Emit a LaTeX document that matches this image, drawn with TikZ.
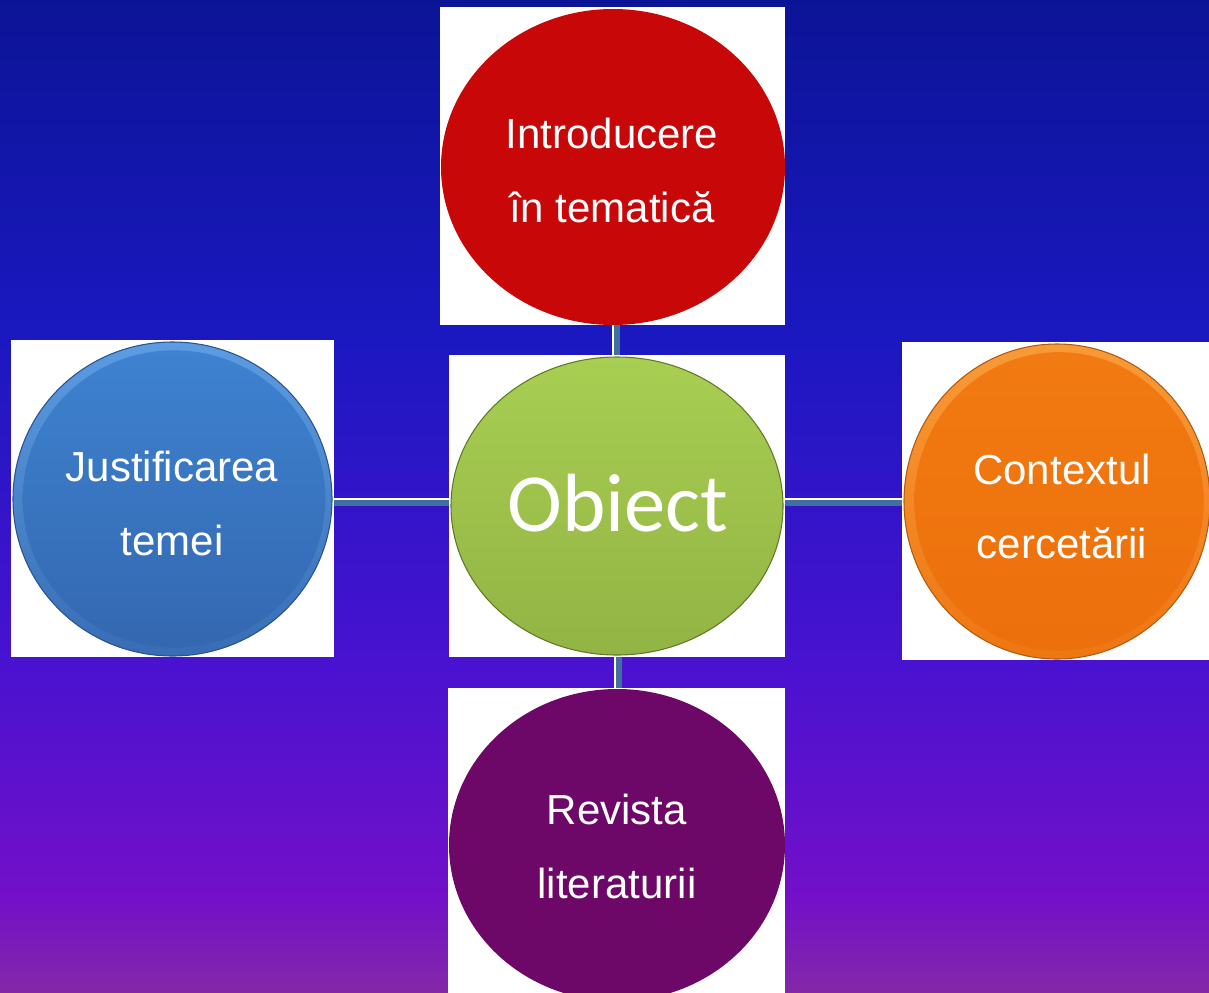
\documentclass[tikz,border=0pt]{standalone}
\usepackage{fontspec}
\setmainfont{Liberation Sans}
\newfontfamily\calib{Carlito}
\usetikzlibrary{shapes.geometric,calc}
\definecolor{bgA}{HTML}{0C1496}
\definecolor{bgB}{HTML}{1A18C0}
\definecolor{bgC}{HTML}{4812D0}
\definecolor{bgD}{HTML}{7410C8}
\definecolor{bgE}{HTML}{8428A8}
\definecolor{connblue}{HTML}{41709F}
\definecolor{redc}{HTML}{C80808}
\definecolor{purc}{HTML}{6E0868}
\definecolor{grnT}{HTML}{A8CE52}
\definecolor{grnB}{HTML}{92B444}
\definecolor{grnE}{HTML}{5E7A28}
\definecolor{bluR}{HTML}{5C9CE2}
\definecolor{bluT}{HTML}{3E82D0}
\definecolor{bluB}{HTML}{3468B0}
\definecolor{bluE}{HTML}{2A5290}
\definecolor{orR}{HTML}{F89A38}
\definecolor{orT}{HTML}{F27A12}
\definecolor{orB}{HTML}{EC700C}
\definecolor{orE}{HTML}{B05A10}
\tikzset{
  whitebox/.style={draw=none, fill=white, inner sep=0pt, rectangle},
  disc/.style={ellipse, inner sep=0pt, draw=none},
  label/.style={text=white, align=center, inner sep=0pt, font=\fontsize{31.5}{55.5}\selectfont},
  connw/.style={white, line width=6pt},
  connb/.style={connblue, line width=4.5pt},
}
\begin{document}
\begin{tikzpicture}[x=0.75pt,y=-0.75pt]
\useasboundingbox (0,0) rectangle (1209,992);
\clip (0,0) rectangle (1209,992);
% background
\shade[top color=bgA, bottom color=bgB] (0,0) rectangle (1209,331);
\shade[top color=bgB, bottom color=bgC] (0,330) rectangle (1209,661);
\shade[top color=bgC, bottom color=bgD] (0,660) rectangle (1209,901);
\shade[top color=bgD, bottom color=bgE] (0,900) rectangle (1209,992);
% white boxes
\node[whitebox, minimum width=258.75pt, minimum height=238.5pt] (topbox) at (612.5,166) {};
\node[whitebox, minimum width=252pt, minimum height=226.5pt] (midbox) at (617,506) {};
\node[whitebox, minimum width=242.25pt, minimum height=237.75pt] (leftbox) at (172.5,498.5) {};
\node[whitebox, minimum width=232.5pt, minimum height=238.5pt] (rightbox) at (1057,501) {};
\node[whitebox, minimum width=252.75pt, minimum height=234pt] (botbox) at (616.5,844) {};
% connectors
\draw[connw] (midbox.north -| 615.5,0) -- (topbox.south -| 615.5,0);
\draw[connb] ([xshift=0.75pt]midbox.north -| 615.5,0) -- ([xshift=0.75pt]topbox.south -| 615.5,0);
\draw[connw] (midbox.south -| 618,0) -- (botbox.north -| 618,0);
\draw[connb] ([xshift=0.75pt]midbox.south -| 618,0) -- ([xshift=0.75pt]botbox.north -| 618,0);
\draw[connw] (leftbox.east |- 0,501.5) -- (midbox.west |- 0,501.5);
\draw[connb] ([yshift=-0.75pt]leftbox.east |- 0,501.5) -- ([yshift=-0.75pt]midbox.west |- 0,501.5);
\draw[connw] (midbox.east |- 0,502) -- (rightbox.west |- 0,502);
\draw[connb] ([yshift=-0.75pt]midbox.east |- 0,502) -- ([yshift=-0.75pt]rightbox.west |- 0,502);
% discs
\node[disc, fill=redc, minimum width=258pt, minimum height=237pt] (topdisc) at (613,167) {};
\node[disc, fill=purc, minimum width=252pt, minimum height=234pt] (botdisc) at (617,845) {};
\node[disc, top color=grnT, bottom color=grnB, draw=grnE, line width=0.8pt, minimum width=249pt, minimum height=223.5pt] (middisc) at (617,506) {};
\node[disc, top color=bluR, bottom color=bluB!90!bluR, draw=bluE, line width=0.8pt, minimum width=239.25pt, minimum height=235.5pt] (leftdisc) at (172.5,499) {};
\node[disc, top color=bluT, bottom color=bluB, minimum width=227pt, minimum height=223pt] (leftin) at (174,499) {};
\node[disc, top color=orR, bottom color=orB!85!orR, draw=orE, line width=0.8pt, minimum width=229.5pt, minimum height=236.25pt] (rightdisc) at (1057,501.5) {};
\node[disc, top color=orT, bottom color=orB, minimum width=217pt, minimum height=224pt] (rightin) at (1059,501.5) {};
% labels
\node[label] (toplab) at (612,170) {Introducere\\în tematică};
\node[label] (leftlab) at (172,503) {Justificarea\\temei};
\node[label] (rightlab) at (1062,506) {Contextul\\cercetării};
\node[label] (botlab) at (617,846) {Revista\\literaturii};
\node[text=white, inner sep=0pt, font=\calib\fontsize{62}{70}\selectfont] (midlab) at (618,503) {Obiect};
\end{tikzpicture}
\end{document}
